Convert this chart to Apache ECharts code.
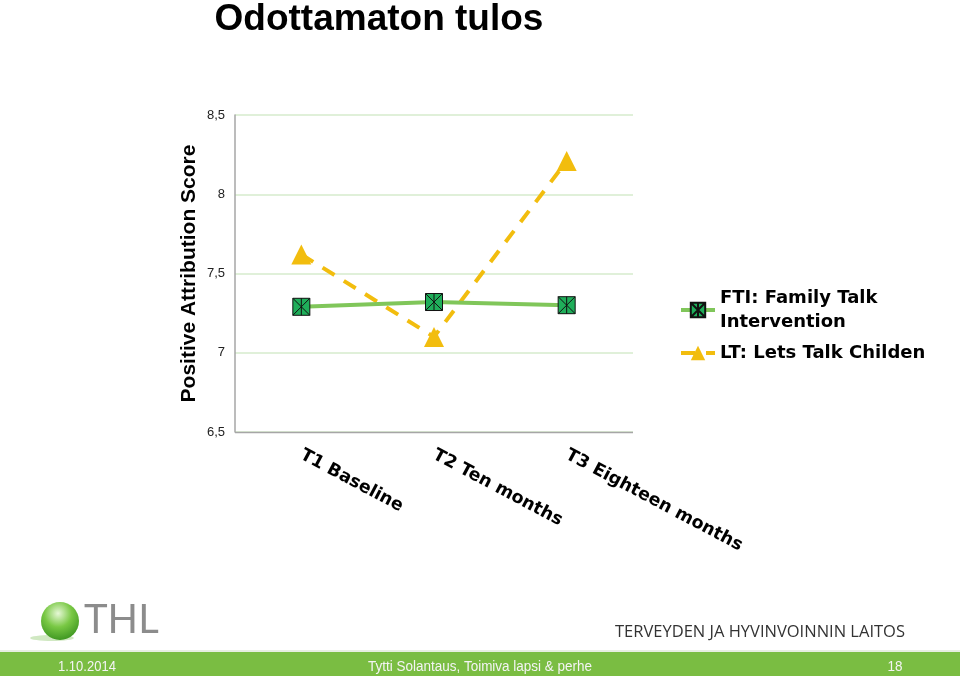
<!DOCTYPE html>
<html><head><meta charset="utf-8">
<script src="https://cdn.jsdelivr.net/npm/echarts@6/dist/echarts.min.js"></script>
<style>html,body{margin:0;padding:0;background:#fff}#c{width:960px;height:676px}</style>
</head><body><div id="c"></div>
<script>
const categories = ['T1 Baseline', 'T2 Ten months', 'T3 Eighteen months'];
const fti = [7.29, 7.32, 7.30];
const lt = [7.62, 7.10, 8.21];
const seriesNames = ['FTI: Family Talk\nIntervention', 'LT: Lets Talk Childen'];
const yTicks = [6.5, 7, 7.5, 8, 8.5];

const chart = echarts.init(document.getElementById('c'));
const boxX = 'path://M0,0L10,0L10,10L0,10Z M0,0L10,10 M10,0L0,10 M5,0L5,10';
const footFont = '15.5px "Liberation Sans", Arial, sans-serif';
chart.setOption({
  animation: false,
  title: {
    text: 'Odottamaton tulos', left: 374, top: -4, textAlign: 'center',
    textStyle: {fontFamily: 'Liberation Sans, Arial', fontWeight: 'bold', fontSize: 37, color: '#000'}
  },
  grid: {left: 235, right: 327, top: 115, bottom: 244},
  legend: {
    orient: 'vertical', left: 679, top: 286, padding: 0, itemWidth: 34, itemHeight: 18, itemGap: 7,
    lineStyle: {width: 4},
    textStyle: {fontFamily: 'DejaVu Sans', fontWeight: 'bold', fontSize: 18, color: '#000', lineHeight: 24},
    data: seriesNames
  },
  xAxis: {
    type: 'category', data: categories, boundaryGap: true,
    axisLine: {show: false}, axisTick: {show: false},
    axisLabel: {rotate: -28, margin: 22, fontFamily: 'DejaVu Sans', fontWeight: 'bold', fontSize: 17.5, color: '#000', interval: 0}
  },
  yAxis: {
    type: 'value', min: yTicks[0], max: yTicks[yTicks.length - 1], interval: 0.5,
    name: 'Positive Attribution Score', nameLocation: 'middle', nameGap: 35,
    nameTextStyle: {fontFamily: 'Liberation Sans, Arial', fontWeight: 'bold', fontSize: 21, color: '#000'},
    axisLine: {show: true, lineStyle: {color: '#a6a6a6', width: 1.5}}, axisTick: {show: false},
    axisLabel: {margin: 10, fontFamily: 'Liberation Sans, Arial', fontSize: 13, color: '#222',
      formatter: v => String(v).replace('.', ',')},
    splitLine: {lineStyle: {color: '#d6ebcc', width: 1.5}}
  },
  series: [
    {name: seriesNames[0], type: 'line', data: fti, symbol: boxX, symbolSize: 17,
     lineStyle: {color: '#80c65a', width: 4},
     itemStyle: {color: '#1fae5a', borderColor: '#111', borderWidth: 1}, z: 3},
    {name: seriesNames[1], type: 'line', data: lt, symbol: 'triangle', symbolSize: 20,
     lineStyle: {color: '#f2bd0e', width: 4, type: [14, 11]},
     itemStyle: {color: '#f2bd0e'}, z: 2}
  ],
  graphic: [
    {type: 'line', shape: {x1: 235, y1: 432.5, x2: 633, y2: 432.5}, style: {stroke: '#a6a6a6', lineWidth: 1.5}, z: 5},
    {type: 'ellipse', shape: {cx: 52, cy: 638, rx: 22, ry: 3}, style: {fill: 'rgba(120,190,80,0.35)'}},
    {type: 'circle', shape: {cx: 60, cy: 621, r: 19},
     style: {fill: new echarts.graphic.RadialGradient(0.45, 0.3, 0.8, [{offset: 0, color: '#e6f8d6'}, {offset: 0.45, color: '#79c844'}, {offset: 1, color: '#2f8a18'}])}},
    {type: 'text', x: 84, y: 600, style: {text: 'THL', font: '40px Lato, "Open Sans", sans-serif', fill: '#8c8c8c'}},
    {type: 'text', x: 615, y: 624, style: {text: 'TERVEYDEN JA HYVINVOINNIN LAITOS', font: '16.5px "Open Sans", sans-serif', fill: '#333'}},
    {type: 'line', shape: {x1: 0, y1: 651, x2: 960, y2: 651}, style: {stroke: '#dfe9d6', lineWidth: 1.5}},
    {type: 'rect', shape: {x: 0, y: 652, width: 960, height: 24}, style: {fill: '#7abd42'}},
    {type: 'text', x: 58, y: 659, scaleX: 0.84, style: {text: '1.10.2014', font: footFont, fill: '#f4f4f4'}},
    {type: 'text', x: 480, y: 659, scaleX: 0.87, style: {text: 'Tytti Solantaus, Toimiva lapsi & perhe', textAlign: 'center', font: footFont, fill: '#f4f4f4'}},
    {type: 'text', x: 895, y: 659, scaleX: 0.87, style: {text: '18', textAlign: 'center', font: footFont, fill: '#f4f4f4'}}
  ]
});
</script></body></html>
